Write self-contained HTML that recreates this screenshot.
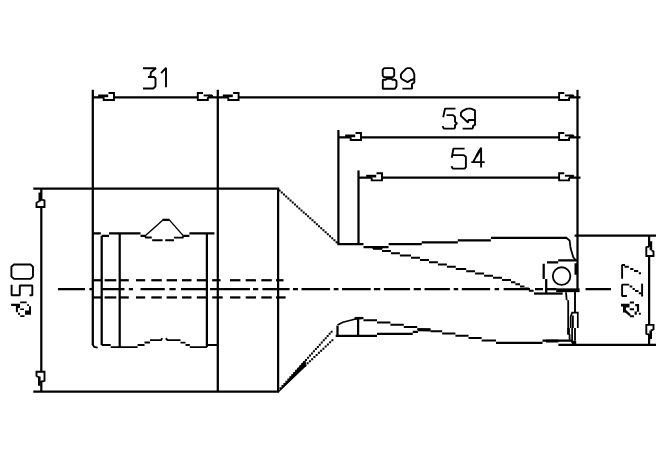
<!DOCTYPE html>
<html><head><meta charset="utf-8"><title>drawing</title>
<style>
html,body{margin:0;padding:0;background:#fff;}
body{width:670px;height:460px;overflow:hidden;font-family:"Liberation Sans",sans-serif;}
svg{display:block;}
</style></head>
<body>
<svg width="670" height="460" viewBox="0 0 670 460" fill="none" stroke="#000" stroke-linecap="butt" stroke-linejoin="miter">
<rect x="0" y="0" width="670" height="460" fill="#fff" stroke="none"/>
<g transform="translate(0,0.25)">
<line x1="92.8" y1="89.6" x2="92.8" y2="345" stroke-width="2.25" />
<line x1="217.8" y1="89.6" x2="217.8" y2="391.4" stroke-width="2.25" />
<line x1="577.5" y1="89.6" x2="577.5" y2="291" stroke-width="2.25" />
<line x1="338.4" y1="129.7" x2="338.4" y2="244" stroke-width="2.25" />
<line x1="358.5" y1="170.2" x2="358.5" y2="244" stroke-width="2.25" />
<path d="M108.5,92.7 H114.0 V99.8 H103.7 V97.1" stroke-width="1.9" />
<line x1="98.2" y1="95.6" x2="108.2" y2="95.6" stroke-width="2.7" />
<line x1="92.8" y1="97.1" x2="103.7" y2="97.1" stroke-width="2.25" />
<path d="M203.0,92.7 H197.8 V99.8 H207.8 V97.1" stroke-width="1.9" />
<path d="M203.6,95.2 H212.2" stroke-width="1.9" />
<line x1="208.4" y1="95.7" x2="212.8" y2="96.1" stroke-width="2.6" />
<line x1="207.8" y1="97.1" x2="217.8" y2="97.1" stroke-width="2.25" />
<line x1="114.0" y1="97.1" x2="197.8" y2="97.1" stroke-width="2.25" />
<path d="M233.1,92.7 H238.6 V99.8 H228.3 V97.1" stroke-width="1.9" />
<line x1="222.8" y1="95.6" x2="232.8" y2="95.6" stroke-width="2.7" />
<line x1="217.8" y1="97.1" x2="228.3" y2="97.1" stroke-width="2.25" />
<path d="M564.3,92.7 H559.1 V99.8 H569.1 V97.1" stroke-width="1.9" />
<path d="M564.9,95.2 H573.5" stroke-width="1.9" />
<line x1="569.7" y1="95.7" x2="574.1" y2="96.1" stroke-width="2.6" />
<line x1="569.1" y1="97.1" x2="580.5" y2="97.1" stroke-width="2.25" />
<line x1="238.6" y1="97.1" x2="559.1" y2="97.1" stroke-width="2.25" />
<path d="M355.5,132.7 H361.0 V139.8 H350.7 V137.1" stroke-width="1.9" />
<line x1="345.2" y1="135.6" x2="355.2" y2="135.6" stroke-width="2.7" />
<line x1="338.4" y1="137.1" x2="350.7" y2="137.1" stroke-width="2.25" />
<path d="M564.3,132.7 H559.1 V139.8 H569.1 V137.1" stroke-width="1.9" />
<path d="M564.9,135.2 H573.5" stroke-width="1.9" />
<line x1="569.7" y1="135.7" x2="574.1" y2="136.1" stroke-width="2.6" />
<line x1="569.1" y1="137.1" x2="580.5" y2="137.1" stroke-width="2.25" />
<line x1="361.0" y1="137.1" x2="559.1" y2="137.1" stroke-width="2.25" />
<path d="M376.5,173.0 H382.0 V180.1 H371.7 V177.4" stroke-width="1.9" />
<line x1="366.2" y1="175.9" x2="376.2" y2="175.9" stroke-width="2.7" />
<line x1="358.5" y1="177.4" x2="371.7" y2="177.4" stroke-width="2.25" />
<path d="M564.3,173.0 H559.1 V180.1 H569.1 V177.4" stroke-width="1.9" />
<path d="M564.9,175.5 H573.5" stroke-width="1.9" />
<line x1="569.7" y1="176.0" x2="574.1" y2="176.4" stroke-width="2.6" />
<line x1="569.1" y1="177.4" x2="580.5" y2="177.4" stroke-width="2.25" />
<line x1="382.0" y1="177.4" x2="559.1" y2="177.4" stroke-width="2.25" />
<line x1="33.3" y1="188.4" x2="279.2" y2="188.4" stroke-width="2.25" />
<line x1="33.3" y1="391.4" x2="279.2" y2="391.4" stroke-width="2.25" />
<line x1="278.1" y1="188.4" x2="278.1" y2="391.4" stroke-width="2.25" />
<line x1="41.3" y1="188.4" x2="41.3" y2="200" stroke-width="2.25" />
<path d="M36.5,201.9 V206.7 H44.5 V199.5" stroke-width="1.9" />
<line x1="39.8" y1="192.3" x2="39.8" y2="201.2" stroke-width="2.6" />
<line x1="36.5" y1="202.2" x2="39.5" y2="201" stroke-width="1.7" />
<line x1="41.3" y1="199.8" x2="44.5" y2="199.8" stroke-width="1.7" />
<line x1="41.3" y1="206.7" x2="41.3" y2="371.5" stroke-width="2.25" />
<path d="M36.5,376.3 V371.5 H44.5 V381.3" stroke-width="1.9" />
<line x1="39.3" y1="376.3" x2="39.3" y2="385.5" stroke-width="2.6" />
<line x1="41.3" y1="380.6" x2="41.3" y2="391.4" stroke-width="2.25" />
<line x1="41.3" y1="381" x2="44.5" y2="381" stroke-width="1.7" />
<line x1="36.5" y1="376.2" x2="39.3" y2="376.8" stroke-width="1.7" />
<path d="M92.8,233.2 H100.8 M101.7,235.6 H109 M109,233.2 H140.5 M140.5,235.6 H145" stroke-width="2.25" />
<path d="M145,235.8 L163.2,219.6" stroke-width="1.4" />
<line x1="162.6" y1="219.6" x2="169.6" y2="219.6" stroke-width="2.25" />
<path d="M169.3,219.6 L183.4,235.6" stroke-width="1.4" />
<path d="M183.2,235.6 H189.4 M189.4,233.2 H214.4" stroke-width="2.25" />
<path d="M145,236 L146,237.3 H151.8 M152.2,240 H162.6 M165.2,240 H174 M174,237.4 H182.7 L183.4,235.6" stroke-width="1.9" />
<line x1="101.7" y1="235.6" x2="101.7" y2="344.8" stroke-width="2.25" />
<line x1="119.7" y1="233.2" x2="119.7" y2="346.9" stroke-width="2.25" />
<line x1="206.9" y1="233.2" x2="206.9" y2="346.9" stroke-width="2.25" />
<path d="M92.8,344.5 L94.2,346.6 L97.6,347.3" stroke-width="1.8" />
<path d="M101.7,344.8 H110.7 M110.7,346.9 H137.6 M137.6,344.8 H144.5 M144.5,342.2 H150 M150,339.9 H161 L162.3,338 M165.8,338 L167.5,339.9 H180.5 M180.5,342.4 H185.5 M185.5,344.8 H189.8 M189.8,346.9 H206.9 M206.9,344.8 H217.8" stroke-width="1.9" />
<line x1="92.8" y1="280" x2="101.7" y2="280" stroke-width="2.25" />
<line x1="104.6" y1="280" x2="116.3" y2="280" stroke-width="2.25" />
<line x1="119" y1="280" x2="128.8" y2="280" stroke-width="2.25" />
<line x1="136" y1="280" x2="145.2" y2="280" stroke-width="2.25" />
<line x1="151.3" y1="280" x2="161.8" y2="280" stroke-width="2.25" />
<line x1="166.6" y1="280" x2="177" y2="280" stroke-width="2.25" />
<line x1="182" y1="280" x2="191.5" y2="280" stroke-width="2.25" />
<line x1="196.8" y1="280" x2="206.9" y2="280" stroke-width="2.25" />
<line x1="212.2" y1="280" x2="220.6" y2="280" stroke-width="2.25" />
<line x1="230" y1="280" x2="240.4" y2="280" stroke-width="2.25" />
<line x1="245.7" y1="280" x2="256" y2="280" stroke-width="2.25" />
<line x1="261.3" y1="280" x2="271.8" y2="280" stroke-width="2.25" />
<line x1="276" y1="280" x2="283.5" y2="280" stroke-width="2.25" />
<line x1="92.8" y1="297.2" x2="101.7" y2="297.2" stroke-width="2.25" />
<line x1="104.6" y1="297.2" x2="116.3" y2="297.2" stroke-width="2.25" />
<line x1="119" y1="297.2" x2="128.8" y2="297.2" stroke-width="2.25" />
<line x1="136" y1="297.2" x2="145.2" y2="297.2" stroke-width="2.25" />
<line x1="151.3" y1="297.2" x2="161.8" y2="297.2" stroke-width="2.25" />
<line x1="166.6" y1="297.2" x2="177" y2="297.2" stroke-width="2.25" />
<line x1="182" y1="297.2" x2="191.5" y2="297.2" stroke-width="2.25" />
<line x1="196.8" y1="297.2" x2="206.9" y2="297.2" stroke-width="2.25" />
<line x1="212.2" y1="297.2" x2="222.7" y2="297.2" stroke-width="2.25" />
<line x1="230" y1="297.2" x2="240.4" y2="297.2" stroke-width="2.25" />
<line x1="245.7" y1="297.2" x2="256" y2="297.2" stroke-width="2.25" />
<line x1="261.3" y1="297.2" x2="271.8" y2="297.2" stroke-width="2.25" />
<line x1="276" y1="297.2" x2="285.6" y2="297.2" stroke-width="2.25" />
<line x1="58" y1="288.9" x2="85" y2="288.9" stroke-width="2.25" />
<line x1="89.4" y1="288.9" x2="93" y2="288.9" stroke-width="2.25" />
<line x1="102" y1="288.9" x2="124.5" y2="288.9" stroke-width="2.25" />
<line x1="128.8" y1="288.9" x2="133" y2="288.9" stroke-width="2.25" />
<line x1="140.5" y1="288.9" x2="164.8" y2="288.9" stroke-width="2.25" />
<line x1="169.4" y1="288.9" x2="175.7" y2="288.9" stroke-width="2.25" />
<line x1="181" y1="288.9" x2="207" y2="288.9" stroke-width="2.25" />
<line x1="210" y1="288.9" x2="250" y2="288.9" stroke-width="2.25" />
<line x1="253" y1="288.9" x2="258.2" y2="288.9" stroke-width="2.25" />
<line x1="262.4" y1="288.9" x2="289.6" y2="288.9" stroke-width="2.25" />
<line x1="293" y1="288.9" x2="298" y2="288.9" stroke-width="2.25" />
<line x1="301.5" y1="288.9" x2="330.1" y2="288.9" stroke-width="2.25" />
<line x1="333.7" y1="288.9" x2="338.5" y2="288.9" stroke-width="2.25" />
<line x1="342" y1="288.9" x2="370.7" y2="288.9" stroke-width="2.25" />
<line x1="373.9" y1="288.9" x2="380.3" y2="288.9" stroke-width="2.25" />
<line x1="383.9" y1="288.9" x2="410.1" y2="288.9" stroke-width="2.25" />
<line x1="413.7" y1="288.9" x2="420.9" y2="288.9" stroke-width="2.25" />
<line x1="424.5" y1="288.9" x2="449.9" y2="288.9" stroke-width="2.25" />
<line x1="453.7" y1="288.9" x2="458.2" y2="288.9" stroke-width="2.25" />
<line x1="461.8" y1="288.9" x2="490.1" y2="288.9" stroke-width="2.25" />
<line x1="494.6" y1="288.9" x2="499.1" y2="288.9" stroke-width="2.25" />
<line x1="503.6" y1="288.9" x2="530" y2="288.9" stroke-width="2.25" />
<line x1="535" y1="288.9" x2="543" y2="288.9" stroke-width="2.25" />
<line x1="546.5" y1="288.9" x2="556.5" y2="288.9" stroke-width="2.25" />
<line x1="585.5" y1="288.9" x2="611" y2="288.9" stroke-width="2.25" />
<path d="M278.6,189.3h2.0v2.0h-2.0zM280.79,191.28h2.0v2.0h-2.0zM282.98,193.27h2.0v2.0h-2.0zM285.18,195.25h2.0v2.0h-2.0zM287.37,197.24h2.0v2.0h-2.0zM289.56,199.22h2.0v2.0h-2.0zM291.75,201.21h2.0v2.0h-2.0zM293.95,203.19h2.0v2.0h-2.0zM296.14,205.18h2.0v2.0h-2.0zM298.33,207.16h2.0v2.0h-2.0zM300.52,209.15h2.0v2.0h-2.0zM302.72,211.13h2.0v2.0h-2.0zM304.91,213.12h2.0v2.0h-2.0zM307.1,215.1h2.0v2.0h-2.0zM309.29,217.08h2.0v2.0h-2.0zM311.48,219.07h2.0v2.0h-2.0zM313.68,221.05h2.0v2.0h-2.0zM315.87,223.04h2.0v2.0h-2.0zM318.06,225.02h2.0v2.0h-2.0zM320.25,227.01h2.0v2.0h-2.0zM322.45,228.99h2.0v2.0h-2.0zM324.64,230.98h2.0v2.0h-2.0zM326.83,232.96h2.0v2.0h-2.0zM329.02,234.95h2.0v2.0h-2.0zM331.22,236.93h2.0v2.0h-2.0zM333.41,238.92h2.0v2.0h-2.0zM335.6,240.9h2.0v2.0h-2.0z" fill="#000" stroke="none"/>
<path d="M279.5,387.0h2.0v2.0h-2.0zM281.47,384.82h2.0v2.0h-2.0zM283.43,382.65h2.0v2.0h-2.0zM285.4,380.47h2.0v2.0h-2.0zM287.36,378.29h2.0v2.0h-2.0zM289.33,376.12h2.0v2.0h-2.0zM291.29,373.94h2.0v2.0h-2.0zM293.26,371.76h2.0v2.0h-2.0zM295.22,369.58h2.0v2.0h-2.0zM297.19,367.41h2.0v2.0h-2.0zM299.15,365.23h2.0v2.0h-2.0zM301.12,363.05h2.0v2.0h-2.0zM303.08,360.88h2.0v2.0h-2.0zM305.05,358.7h2.0v2.0h-2.0zM307.02,356.52h2.0v2.0h-2.0zM308.98,354.35h2.0v2.0h-2.0zM310.95,352.17h2.0v2.0h-2.0zM312.91,349.99h2.0v2.0h-2.0zM314.88,347.82h2.0v2.0h-2.0zM316.84,345.64h2.0v2.0h-2.0zM318.81,343.46h2.0v2.0h-2.0zM320.77,341.28h2.0v2.0h-2.0zM322.74,339.11h2.0v2.0h-2.0zM324.7,336.93h2.0v2.0h-2.0zM326.67,334.75h2.0v2.0h-2.0zM328.63,332.58h2.0v2.0h-2.0zM330.6,330.4h2.0v2.0h-2.0z" fill="#000" stroke="none"/>
<path d="M304.4,364.2h2.0v2.0h-2.0zM306.65,362.1h2.0v2.0h-2.0zM308.9,360.0h2.0v2.0h-2.0zM311.15,357.9h2.0v2.0h-2.0zM313.4,355.8h2.0v2.0h-2.0zM315.65,353.7h2.0v2.0h-2.0zM317.9,351.6h2.0v2.0h-2.0zM320.15,349.5h2.0v2.0h-2.0zM322.4,347.4h2.0v2.0h-2.0zM324.65,345.3h2.0v2.0h-2.0zM326.9,343.2h2.0v2.0h-2.0zM329.15,341.1h2.0v2.0h-2.0zM331.4,339.0h2.0v2.0h-2.0z" fill="#000" stroke="none"/>
<path d="M279,391 L304,361.6 L305.8,365.4 Z" stroke-width="1.1" fill="#000"/>
<line x1="305" y1="360.4" x2="305" y2="366.2" stroke-width="1.6" />
<path d="M337.4,243.8 H363.5 M363.5,246.8 H388.6 M388.6,243.8 H421.7 M421.7,242.2 H457.8 M457.8,240.1 H490.9 M490.9,237.7 H567" stroke-width="2.25" />
<path d="M566.5,237.7 L569.6,240.2 L570.6,248 L573.3,257 L575.5,259.8" stroke-width="1.8" />
<line x1="372.5" y1="247.3" x2="382.5" y2="247.9" stroke-width="2.8" />
<path d="M373,248.4H382M382,250.7H390.9M390.9,253.0H399.9M399.9,255.3H411M411,257.5H420M420,259.8H429M429,262.0H437.9M437.9,264.3H446.9M446.9,266.5H455.8M455.8,268.8H466.2M466.2,271.0H475.1M475.1,273.2H484.1M484.1,275.4H493M493,277.6H502M502,279.8H511M511,281.9H515.4M515.4,284.1H520M520,286.2H524.4M524.4,288.2H528.9M528.9,290.6H533.6" stroke-width="2.0"/>
<path d="M534,293.3 H562.7" stroke-width="2.25" />
<path d="M547,262 H558.2 M558.2,260 H577.5" stroke-width="2.25" />
<path d="M543.7,263.6 V278.8 M546.2,278.8 V293.3" stroke-width="2.25" />
<line x1="575.9" y1="263" x2="575.9" y2="274.5" stroke-width="2.8" />
<line x1="556.2" y1="290" x2="579.6" y2="290" stroke-width="3.8" />
<circle cx="561.6" cy="275.8" r="8.8" fill="none" stroke-width="1.8"/>
<path d="M566,292 L566.7,300 M568.2,300 V334 M569.6,334 V339.6" stroke-width="1.8" />
<line x1="568.6" y1="327.8" x2="568.6" y2="334.5" stroke-width="2.6" />
<line x1="575" y1="291" x2="575" y2="312.4" stroke-width="1.9" />
<path d="M570.7,327.7 V316.4 L572.1,312.4 H577.8 V327.7" stroke-width="1.7" />
<line x1="572.9" y1="315.2" x2="572.9" y2="327.7" stroke-width="1.8" />
<line x1="572.1" y1="327.7" x2="572.1" y2="343" stroke-width="1.7" />
<line x1="575" y1="327.7" x2="575" y2="340.5" stroke-width="1.8" />
<path d="M572,340.5 H576.2 V344.5 H572 Z" stroke-width="1" fill="#000" stroke="none"/>
<line x1="337.5" y1="325.4" x2="337.5" y2="335.6" stroke-width="2.25" />
<path d="M337.5,324.7 L342.9,322 L354.6,319 L362.6,317.8" stroke-width="1.7" />
<line x1="354.6" y1="317.8" x2="363.5" y2="317.8" stroke-width="2.25" />
<line x1="358.1" y1="317.5" x2="358.1" y2="335.6" stroke-width="2.25" />
<path d="M363.5,320.1H377M377,322.3H390.4M390.4,324.5H403.8M403.8,326.8H417.2M417.2,329.1H430.5M430.5,331.0H442.2M442.2,333.2H455.4M455.4,335.5H468.5M468.5,337.8H481.6M481.6,340.2H496" stroke-width="2.0"/>
<path d="M335.7,335.7 H377 M377,333.7 H412.8 M412.8,331.5 H418 " stroke-width="2.25" />
<line x1="418" y1="329.5" x2="430.5" y2="329.9" stroke-width="2.8" />
<path d="M496,342.5 H542.5 M542.5,340.4 H572.3" stroke-width="2.25" />
<line x1="546" y1="340.8" x2="558.4" y2="340.8" stroke-width="2.9" />
<line x1="574.6" y1="235.4" x2="656" y2="235.4" stroke-width="2.25" />
<line x1="558.4" y1="344.6" x2="656" y2="344.6" stroke-width="2.25" />
<line x1="649.1" y1="235.4" x2="649.1" y2="246.5" stroke-width="2.25" />
<path d="M646.3,246.3 V255.8 H653.5 V250.6" stroke-width="1.9" />
<line x1="650.9" y1="241" x2="650.9" y2="250" stroke-width="2.6" />
<line x1="651.5" y1="250.4" x2="653.5" y2="250.8" stroke-width="1.7" />
<line x1="646.3" y1="246.6" x2="649.1" y2="246.6" stroke-width="1.7" />
<line x1="649.1" y1="255.8" x2="649.1" y2="324.6" stroke-width="2.25" />
<path d="M646.3,334.2 V324.6 H653.5 V329.8" stroke-width="1.9" />
<line x1="650.7" y1="330.3" x2="650.7" y2="338.7" stroke-width="2.6" />
<line x1="649.1" y1="333.6" x2="649.1" y2="344.6" stroke-width="2.25" />
<line x1="646.3" y1="334" x2="649.1" y2="334" stroke-width="1.7" />
<line x1="650.7" y1="329.9" x2="653.5" y2="329.6" stroke-width="1.7" />
<path d="M143,68 H156 L151,72 L150.3,76.6 M148,76.7 H154 L155.5,78 V86 L153.5,88.2 H143" stroke-width="1.9"  stroke-linejoin="bevel"/>
<path d="M161.1,72.9 L166,67.6 V86.9" stroke-width="1.9"  stroke-linejoin="bevel"/>
<path d="M384.2,67.9 H392.8 L394.2,69.5 V75.3 L392.8,76.9 H384 L382.7,75.3 V69.5 Z" stroke-width="1.9"  stroke-linejoin="bevel"/>
<path d="M382.8,88.5 V79.5 H386 L386.3,78.6 H391.9 L392.2,79.5 H395 L396.5,81 V86 L395,88.5 Z" stroke-width="1.9"  stroke-linejoin="bevel"/>
<path d="M406.8,67.9 H410.5 L412.9,70.4 L414.3,74 V82.2 L412,83.8 V88.4 H402.4 M406.8,67.9 L402.2,72.4 L400.9,74.2 V77.4 L402.2,79 L407.6,81.9 L410.6,80 L414.3,78.6" stroke-width="1.9"  stroke-linejoin="bevel"/>
<path d="M455.5,108.4 H445 L443.2,117 M446.5,114.9 H453 L455,116.7 V121.5 L457,123 L455,125 V127.6 L454,128.4 H443.8 L442.6,125.9" stroke-width="1.9"  stroke-linejoin="bevel"/>
<path d="M467.2,108.4 H471 L475,110.2 V124.7 L473,125.7 V127.6 L472,128.4 H462.6 M467.2,108.4 L462.6,110.6 L460.9,112.6 V115.6 L468,122.3 L468.6,119.8 H474.6" stroke-width="1.9"  stroke-linejoin="bevel"/>
<path d="M464.6,148.4 H453.4 L451.8,157.5 M452,154.9 H463.8 L465.9,156.5 V166.8 L464.6,168.4 H452.9 L451.4,165.9" stroke-width="1.9"  stroke-linejoin="bevel"/>
<path d="M481.1,167.2 V147.5 L473.4,161.3 M471.3,161.9 H484.7" stroke-width="1.9"  stroke-linejoin="bevel"/>
<line x1="479.5" y1="150.5" x2="476.5" y2="156" stroke-width="2.4" />
<path d="M14,264.2 H30.5 L33,266.5 V276.3 L30.5,278.6 H14 L11.4,276.3 V266.5 Z" stroke-width="1.9"  stroke-linejoin="bevel"/>
<path d="M11.6,284.5 V295 H19.8 V285.3 H32.3 V295 H29.5" stroke-width="1.9"  stroke-linejoin="bevel"/>
<path d="M20.2,301.2H26.7V303.1H20.2ZM11.1,303.5H20V305.8H11.1ZM15.9,305.7H20V307.8H15.9ZM15.9,307.8H17.9V312.1H15.9ZM27.1,303.9H29V305.8H27.1ZM29,306H31V314.5H29ZM20.2,308.2H24V309.8H20.2ZM25,310.2H31V314.5H25ZM18,312.5H20V314.5H18ZM20.2,315.1H24.5V316.8H20.2Z" fill="#000" stroke="none"/>
<path d="M622.1,278.6 V264.7 H625" stroke-width="1.9"  stroke-linejoin="bevel"/>
<path d="M624.5,266.5H628.9M630.2,268.8H633.4M634,270.8H638.2M638.8,273H641" stroke-width="1.9"/>
<path d="M626.9,295.8 H622.1 V284.4 H629.2" stroke-width="1.9"  stroke-linejoin="bevel"/>
<path d="M629.6,286.3H632.3M632.6,288.7H634.8M635,290.8H638.5M638.8,293H641.4" stroke-width="1.9"/>
<path d="M642.1,283.4 V296.3" stroke-width="1.9"  stroke-linejoin="bevel"/>
<path d="M629.8,301.2H634V303.2H629.8ZM621,303.6H629.5V306.2H621ZM623,304H629.5V307.2H623ZM623,306.3H626V312.2H623ZM635.2,303.8H639.1V305.9H635.2ZM636.9,304H639.1V311.5H636.9ZM629.8,308.1H634V310H629.8ZM634.6,311.2H636.8V314.4H634.6ZM638.8,312.6H640.8V314.4H638.8ZM629.8,315H634V317H629.8Z" fill="#000" stroke="none"/>
<path d="M625,310.3 L630,314.8" stroke-width="2.4"  stroke-linejoin="bevel"/>
</g>
</svg>
</body></html>
